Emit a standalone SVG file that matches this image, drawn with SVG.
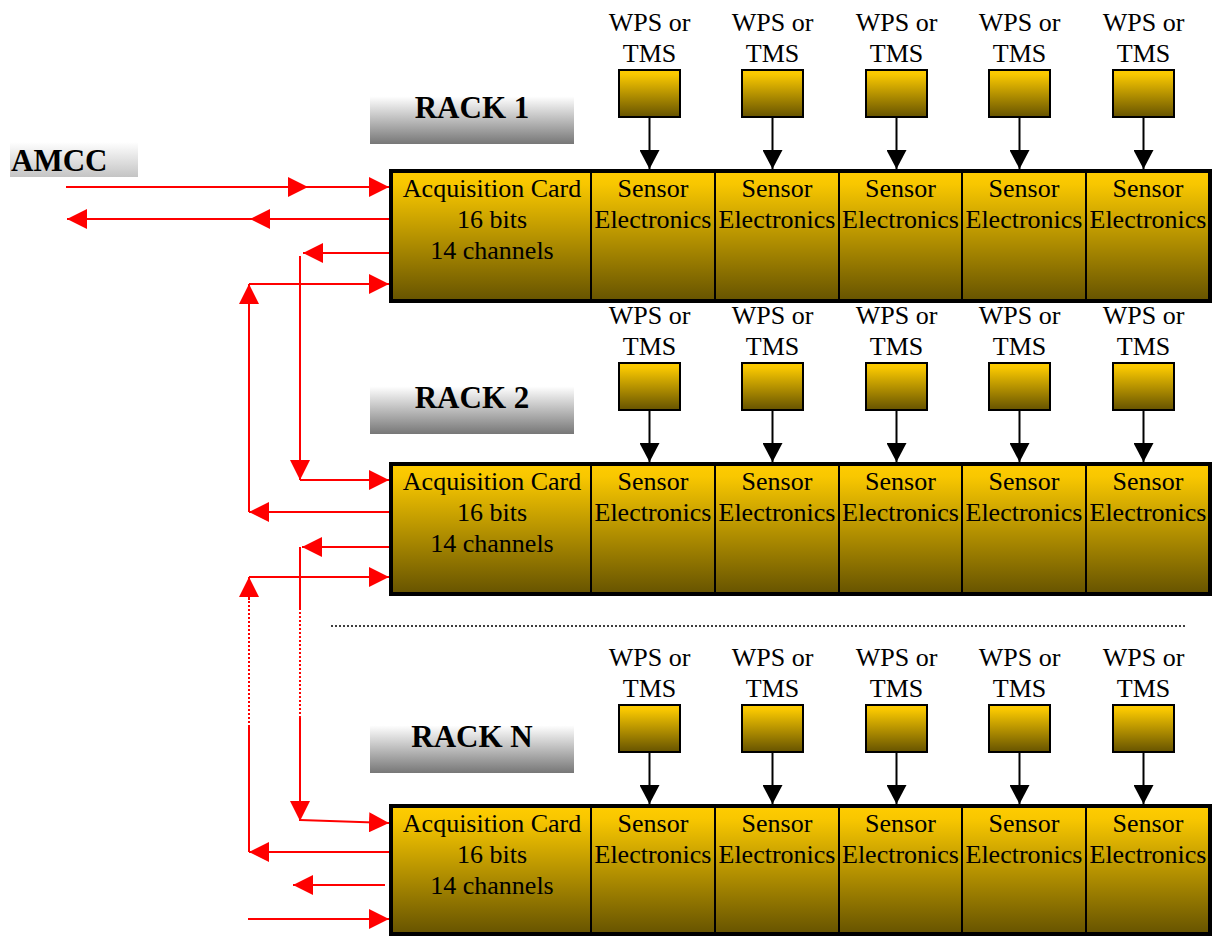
<svg xmlns="http://www.w3.org/2000/svg" width="1213" height="936" viewBox="0 0 1213 936">
<style>
.cell{fill:url(#gold);stroke:#000;stroke-width:2}
.frame{fill:none;stroke:#000;stroke-width:4}
.wps{fill:url(#gold);stroke:#000;stroke-width:2}
.t{font-family:"Liberation Serif","Times New Roman",serif;font-size:26px;text-anchor:middle;fill:#000}
.rl{font-family:"Liberation Serif","Times New Roman",serif;font-weight:bold;font-size:31px;text-anchor:middle;fill:#000}
.red{stroke:#f00;stroke-width:2;fill:none}
.ra{stroke:#f00;stroke-width:2;fill:none;marker-end:url(#ar)}
.dot{stroke:#f00;stroke-width:2;fill:none;stroke-dasharray:2 2}
.blk{stroke:#000;stroke-width:2;fill:none;marker-end:url(#ab)}
</style>
<defs>
<linearGradient id="gold" x1="0" y1="0" x2="0" y2="1">
<stop offset="0" stop-color="#FFCC00"/>
<stop offset="0.1" stop-color="#F8C700"/>
<stop offset="1" stop-color="#665300"/>
</linearGradient>
<linearGradient id="gray" x1="0" y1="0" x2="0" y2="1">
<stop offset="0" stop-color="#FFFFFF"/>
<stop offset="0.15" stop-color="#FFFFFF"/>
<stop offset="1" stop-color="#777777"/>
</linearGradient>
<linearGradient id="lgray" x1="0" y1="0" x2="0" y2="1">
<stop offset="0" stop-color="#FFFFFF"/>
<stop offset="1" stop-color="#C4C4C4"/>
</linearGradient>
<marker id="ar" markerUnits="userSpaceOnUse" markerWidth="20" markerHeight="20" refX="20" refY="10" orient="auto" viewBox="0 0 20 20">
<path d="M0,0 L20,10 L0,20 z" fill="#f00"/>
</marker>
<marker id="ab" markerUnits="userSpaceOnUse" markerWidth="19" markerHeight="20" refX="19" refY="10" orient="auto" viewBox="0 0 19 20">
<path d="M0,0 L19,10 L0,20 z" fill="#000"/>
</marker>
</defs>
<rect width="1213" height="936" fill="#fff"/>

<g id="amcc">
<rect x="10" y="142" width="128" height="35" fill="url(#lgray)"/>
<text class="rl" x="11" y="171" style="text-anchor:start">AMCC</text>
</g>

<g id="rack1">
<g id="rack1-label"><rect x="370" y="88" width="204" height="56" fill="url(#gray)"/><text class="rl" x="472" y="118">RACK 1</text></g>
<g id="rack1-wps1"><text class="t" x="649.5" y="31">WPS or</text><text class="t" x="649.5" y="62">TMS</text><rect class="wps" x="619" y="70" width="61" height="47"/></g>
<g id="rack1-wps2"><text class="t" x="772.5" y="31">WPS or</text><text class="t" x="772.5" y="62">TMS</text><rect class="wps" x="742" y="70" width="61" height="47"/></g>
<g id="rack1-wps3"><text class="t" x="896.5" y="31">WPS or</text><text class="t" x="896.5" y="62">TMS</text><rect class="wps" x="866" y="70" width="61" height="47"/></g>
<g id="rack1-wps4"><text class="t" x="1019.5" y="31">WPS or</text><text class="t" x="1019.5" y="62">TMS</text><rect class="wps" x="989" y="70" width="61" height="47"/></g>
<g id="rack1-wps5"><text class="t" x="1143.5" y="31">WPS or</text><text class="t" x="1143.5" y="62">TMS</text><rect class="wps" x="1113" y="70" width="61" height="47"/></g>
<g id="rack1-acq"><rect class="cell" x="391" y="171" width="200" height="130"/><text class="t" x="492" y="197">Acquisition Card</text><text class="t" x="492" y="228">16 bits</text><text class="t" x="492" y="259">14 channels</text></g>
<g id="rack1-se1"><rect class="cell" x="591" y="171" width="124" height="130"/><text class="t" x="653" y="197">Sensor</text><text class="t" x="653" y="228">Electronics</text></g>
<g id="rack1-se2"><rect class="cell" x="715" y="171" width="124" height="130"/><text class="t" x="777" y="197">Sensor</text><text class="t" x="777" y="228">Electronics</text></g>
<g id="rack1-se3"><rect class="cell" x="839" y="171" width="123" height="130"/><text class="t" x="900.5" y="197">Sensor</text><text class="t" x="900.5" y="228">Electronics</text></g>
<g id="rack1-se4"><rect class="cell" x="962" y="171" width="124" height="130"/><text class="t" x="1024" y="197">Sensor</text><text class="t" x="1024" y="228">Electronics</text></g>
<g id="rack1-se5"><rect class="cell" x="1086" y="171" width="124" height="130"/><text class="t" x="1148" y="197">Sensor</text><text class="t" x="1148" y="228">Electronics</text></g>
<rect class="frame" x="391" y="171" width="819" height="130"/>
</g>

<g id="rack2">
<g id="rack2-label"><rect x="370" y="378" width="204" height="56" fill="url(#gray)"/><text class="rl" x="472" y="408">RACK 2</text></g>
<g id="rack2-wps1"><text class="t" x="649.5" y="324">WPS or</text><text class="t" x="649.5" y="355">TMS</text><rect class="wps" x="619" y="363" width="61" height="47"/></g>
<g id="rack2-wps2"><text class="t" x="772.5" y="324">WPS or</text><text class="t" x="772.5" y="355">TMS</text><rect class="wps" x="742" y="363" width="61" height="47"/></g>
<g id="rack2-wps3"><text class="t" x="896.5" y="324">WPS or</text><text class="t" x="896.5" y="355">TMS</text><rect class="wps" x="866" y="363" width="61" height="47"/></g>
<g id="rack2-wps4"><text class="t" x="1019.5" y="324">WPS or</text><text class="t" x="1019.5" y="355">TMS</text><rect class="wps" x="989" y="363" width="61" height="47"/></g>
<g id="rack2-wps5"><text class="t" x="1143.5" y="324">WPS or</text><text class="t" x="1143.5" y="355">TMS</text><rect class="wps" x="1113" y="363" width="61" height="47"/></g>
<g id="rack2-acq"><rect class="cell" x="391" y="464" width="200" height="130"/><text class="t" x="492" y="490">Acquisition Card</text><text class="t" x="492" y="521">16 bits</text><text class="t" x="492" y="552">14 channels</text></g>
<g id="rack2-se1"><rect class="cell" x="591" y="464" width="124" height="130"/><text class="t" x="653" y="490">Sensor</text><text class="t" x="653" y="521">Electronics</text></g>
<g id="rack2-se2"><rect class="cell" x="715" y="464" width="124" height="130"/><text class="t" x="777" y="490">Sensor</text><text class="t" x="777" y="521">Electronics</text></g>
<g id="rack2-se3"><rect class="cell" x="839" y="464" width="123" height="130"/><text class="t" x="900.5" y="490">Sensor</text><text class="t" x="900.5" y="521">Electronics</text></g>
<g id="rack2-se4"><rect class="cell" x="962" y="464" width="124" height="130"/><text class="t" x="1024" y="490">Sensor</text><text class="t" x="1024" y="521">Electronics</text></g>
<g id="rack2-se5"><rect class="cell" x="1086" y="464" width="124" height="130"/><text class="t" x="1148" y="490">Sensor</text><text class="t" x="1148" y="521">Electronics</text></g>
<rect class="frame" x="391" y="464" width="819" height="130"/>
</g>

<g id="rackN">
<g id="rackN-label"><rect x="370" y="717" width="204" height="56" fill="url(#gray)"/><text class="rl" x="472" y="747">RACK N</text></g>
<g id="rackN-wps1"><text class="t" x="649.5" y="666">WPS or</text><text class="t" x="649.5" y="697">TMS</text><rect class="wps" x="619" y="705" width="61" height="47"/></g>
<g id="rackN-wps2"><text class="t" x="772.5" y="666">WPS or</text><text class="t" x="772.5" y="697">TMS</text><rect class="wps" x="742" y="705" width="61" height="47"/></g>
<g id="rackN-wps3"><text class="t" x="896.5" y="666">WPS or</text><text class="t" x="896.5" y="697">TMS</text><rect class="wps" x="866" y="705" width="61" height="47"/></g>
<g id="rackN-wps4"><text class="t" x="1019.5" y="666">WPS or</text><text class="t" x="1019.5" y="697">TMS</text><rect class="wps" x="989" y="705" width="61" height="47"/></g>
<g id="rackN-wps5"><text class="t" x="1143.5" y="666">WPS or</text><text class="t" x="1143.5" y="697">TMS</text><rect class="wps" x="1113" y="705" width="61" height="47"/></g>
<g id="rackN-acq"><rect class="cell" x="391" y="806" width="200" height="128"/><text class="t" x="492" y="832">Acquisition Card</text><text class="t" x="492" y="863">16 bits</text><text class="t" x="492" y="894">14 channels</text></g>
<g id="rackN-se1"><rect class="cell" x="591" y="806" width="124" height="128"/><text class="t" x="653" y="832">Sensor</text><text class="t" x="653" y="863">Electronics</text></g>
<g id="rackN-se2"><rect class="cell" x="715" y="806" width="124" height="128"/><text class="t" x="777" y="832">Sensor</text><text class="t" x="777" y="863">Electronics</text></g>
<g id="rackN-se3"><rect class="cell" x="839" y="806" width="123" height="128"/><text class="t" x="900.5" y="832">Sensor</text><text class="t" x="900.5" y="863">Electronics</text></g>
<g id="rackN-se4"><rect class="cell" x="962" y="806" width="124" height="128"/><text class="t" x="1024" y="832">Sensor</text><text class="t" x="1024" y="863">Electronics</text></g>
<g id="rackN-se5"><rect class="cell" x="1086" y="806" width="124" height="128"/><text class="t" x="1148" y="832">Sensor</text><text class="t" x="1148" y="863">Electronics</text></g>
<rect class="frame" x="391" y="806" width="819" height="128"/>
</g>

<g id="connectors">
<!-- sensor arrows -->
<path class="blk" d="M649.5,117 V169"/><path class="blk" d="M772.5,117 V169"/><path class="blk" d="M896.5,117 V169"/><path class="blk" d="M1019.5,117 V169"/><path class="blk" d="M1143.5,117 V169"/>
<path class="blk" d="M649.5,410 V462"/><path class="blk" d="M772.5,410 V462"/><path class="blk" d="M896.5,410 V462"/><path class="blk" d="M1019.5,410 V462"/><path class="blk" d="M1143.5,410 V462"/>
<path class="blk" d="M649.5,752 V804"/><path class="blk" d="M772.5,752 V804"/><path class="blk" d="M896.5,752 V804"/><path class="blk" d="M1019.5,752 V804"/><path class="blk" d="M1143.5,752 V804"/>
<!-- AMCC links -->
<path class="ra" d="M66,187 H308"/><path class="ra" d="M308,187 H389"/>
<path class="ra" d="M389,219 H250"/><path class="ra" d="M250,219 H67"/>
<!-- rack1 -> rack2 -->
<path class="ra" d="M389,253 H303"/><path class="ra" d="M300,256 V480"/><path class="ra" d="M300,480 H389"/>
<!-- rack2 -> rack1 -->
<path class="ra" d="M389,512 H249"/><path class="ra" d="M249,512 V284"/><path class="ra" d="M249,284 H389"/>
<!-- rack2 -> rackN -->
<path class="ra" d="M389,547 H302"/>
<path class="red" d="M300,547 V608"/><path class="dot" d="M300,608 V718"/><path class="ra" d="M300,718 V821"/>
<path class="ra" d="M300,820 L389,823"/>
<!-- rackN -> rack2 -->
<path class="ra" d="M389,852 H249"/>
<path class="red" d="M249,852 V727"/><path class="dot" d="M249,727 V598"/><path class="ra" d="M249,600 V577"/>
<path class="ra" d="M249,577 H389"/>
<!-- rackN open ends -->
<path class="ra" d="M385,885 H293"/>
<path class="ra" d="M248,919 H389"/>
<!-- separator -->
<path d="M331,626 H1186" stroke="#000" stroke-width="1.5" stroke-dasharray="2 2" fill="none"/>
</g>
</svg>
